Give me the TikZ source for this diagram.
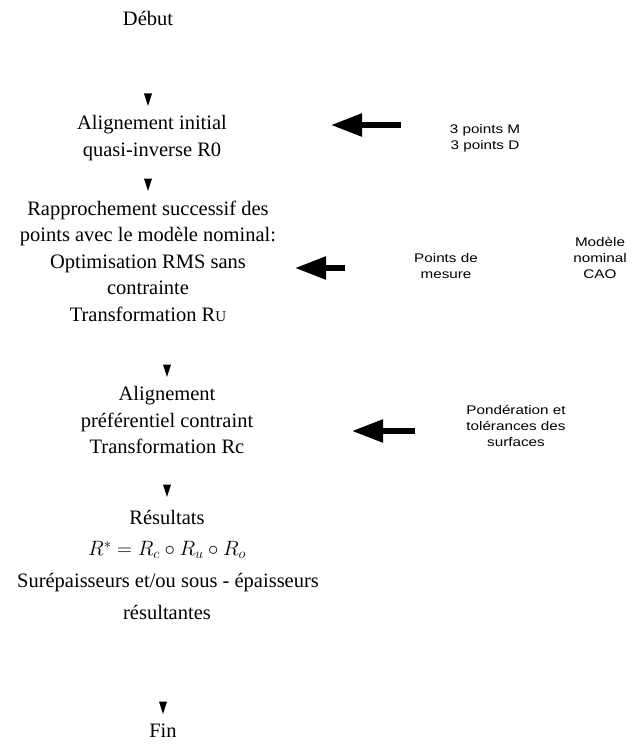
\documentclass[tikz,border=0pt]{standalone}
\usepackage{fontspec}
\setmainfont{Liberation Serif}
\newfontfamily\labelfont[FakeStretch=1.22]{Liberation Sans}
\usetikzlibrary{arrows.meta,calc}
\tikzset{
  stepbox/.style={align=center, inner sep=0pt, font=\fontsize{20.5}{26.5}\selectfont},
  sidelabel/.style={align=center, inner sep=0pt, font=\labelfont\fontsize{12.5}{16}\selectfont},
  bigarrow/.style={line width=5.5pt, -{Triangle[length=31pt,width=22pt]}},
  tri/.style={fill=black}
}
\newcommand{\downtri}[1]{\fill[tri] ($(#1)+(-4,-6.5)$) -- ($(#1)+(4,-6.5)$) -- ($(#1)+(0,6)$) -- cycle;}
\newcommand{\smallU}{{\fontsize{15}{15}\selectfont U}}
\begin{document}
\begin{tikzpicture}[x=1pt,y=-1pt]
\path[use as bounding box] (0,0) rectangle (634,746);
\node[stepbox] (debut) at (148,18) {Début};
\node[stepbox] (align) at (152,138) {Alignement initial\\quasi-inverse R0};
\node[stepbox] (rappro) at (148,261) {Rapprochement successif des\\points avec le modèle nominal:\\Optimisation RMS sans\\contrainte\\Transformation R\smallU};
\node[stepbox] (pref) at (167,420) {Alignement\\préférentiel contraint\\Transformation Rc};
\node[stepbox] (res) at (167,517) {Résultats};
\node[stepbox] (formule) at (167,550) {$R^{*} = R_{c}\circ R_{u}\circ R_{o}$};
\node[stepbox] (sur) at (168,583) {Surépaisseurs et/ou sous - épaisseurs};
\node[stepbox] (resu) at (167,612) {résultantes};
\node[stepbox] (fin) at (163,731) {Fin};

\node[sidelabel] (pts) at (485,138) {3 points M\\3 points D};
\node[sidelabel] (mes) at (446,266) {Points de\\mesure};
\node[sidelabel] (cao) at (600,258) {Modèle\\nominal\\CAO};
\node[sidelabel] (pond) at (516,426) {Pondération et\\tolérances des\\surfaces};

\coordinate (a1s) at (401,125); \coordinate (a1e) at (331,125);
\coordinate (a2s) at (345,268); \coordinate (a2e) at (295,268);
\coordinate (a3s) at (415,431); \coordinate (a3e) at (352,431);
\draw[bigarrow] (a1s) -- (a1e);
\draw[bigarrow] (a2s) -- (a2e);
\draw[bigarrow] (a3s) -- (a3e);

\coordinate (t1) at (148,100);
\coordinate (t2) at (148,185);
\coordinate (t3) at (167,371);
\coordinate (t4) at (167,491);
\coordinate (t5) at (163,708);
\downtri{t1}\downtri{t2}\downtri{t3}\downtri{t4}\downtri{t5}
\end{tikzpicture}
\end{document}
